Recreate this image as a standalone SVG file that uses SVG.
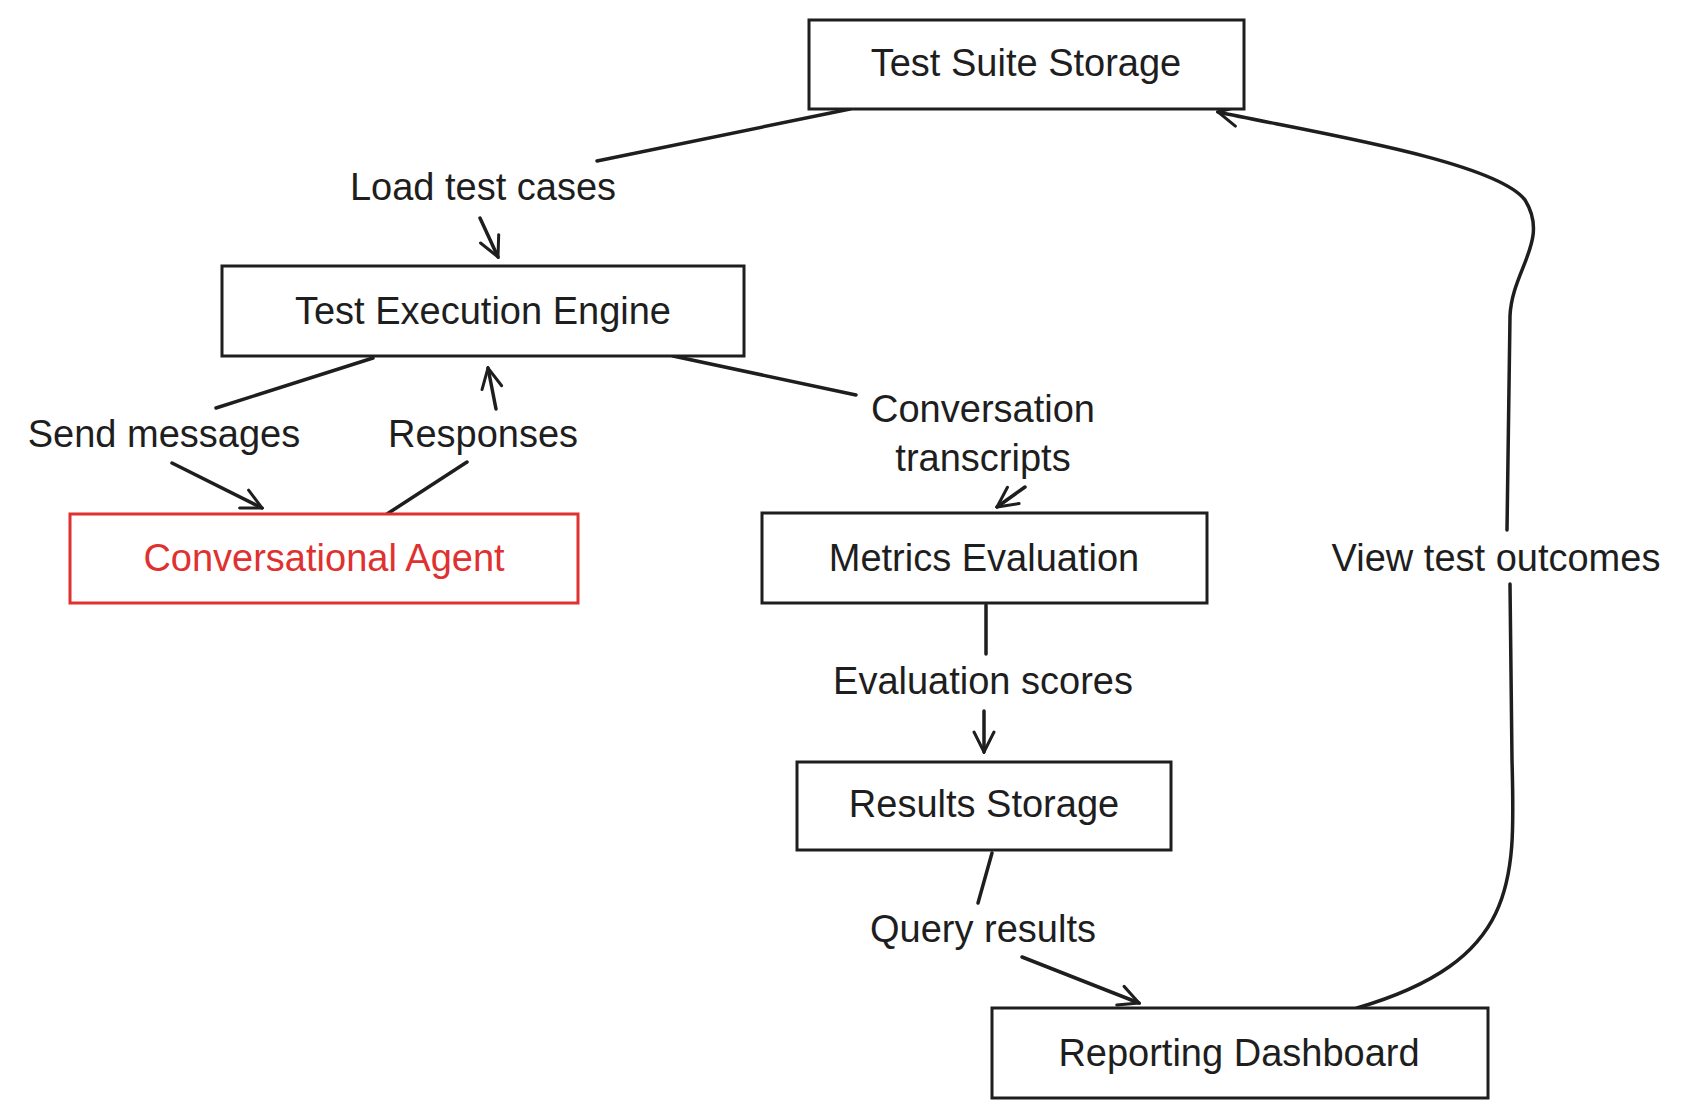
<svg xmlns="http://www.w3.org/2000/svg" width="1700" height="1112" viewBox="0 0 1700 1112">
<defs>
<marker id="ah" viewBox="0 0 24 24" refX="22" refY="12" markerWidth="24" markerHeight="24" markerUnits="userSpaceOnUse" orient="auto">
<path d="M2,2 L22,12 L2,22" fill="none" stroke="#1e1e1e" stroke-width="3" stroke-linecap="round"/>
</marker>
<style>
.b rect{fill:#fff;stroke:#1e1e1e;stroke-width:3}
.b text,.l{font-family:"Liberation Sans",sans-serif;font-size:38px;fill:#1e1e1e;text-anchor:middle;dominant-baseline:central}
.c path{fill:none;stroke:#1e1e1e;stroke-width:3.5;stroke-linecap:round}
</style>
</defs>
<rect width="1700" height="1112" fill="#fff"/>
<g class="c" id="connectors">
<path d="M850,109 L597,161"/><path d="M480,218 L498,257" marker-end="url(#ah)"/>
<path d="M373,358 L216,408"/><path d="M172,463 L262,508" marker-end="url(#ah)"/>
<path d="M387,514 L467,462"/><path d="M496,409 L488,368" marker-end="url(#ah)"/>
<path d="M673,356 L856,395"/><path d="M1025,487 L997,507" marker-end="url(#ah)"/>
<path d="M986,605 L986,654"/><path d="M984,711 L984,752" marker-end="url(#ah)"/>
<path d="M992,853 L978,903"/><path d="M1022,957 L1139,1003" marker-end="url(#ah)"/>
<path d="M1357,1008 C1520,960 1515,880 1512,760 L1510,584"/>
<path d="M1507,530 L1510,316 C1512,270 1550,240 1525,200 C1495,160 1300,130 1218,112" marker-end="url(#ah)"/>
<text class="l" x="483" y="187">Load test cases</text>
<text class="l" x="164" y="434">Send messages</text>
<text class="l" x="483" y="434">Responses</text>
<text class="l" x="983" y="409">Conversation</text>
<text class="l" x="983" y="458">transcripts</text>
<text class="l" x="983" y="681">Evaluation scores</text>
<text class="l" x="983" y="929">Query results</text>
<text class="l" x="1496" y="558">View test outcomes</text>
</g>
<g class="b" id="tss"><rect x="809" y="20" width="435" height="89"/><text x="1026" y="63">Test Suite Storage</text></g>
<g class="b" id="tee"><rect x="222" y="266" width="522" height="90"/><text x="483" y="311">Test Execution Engine</text></g>
<g class="b" id="ca"><rect x="70" y="514" width="508" height="89" style="stroke:#e03131"/><text x="324" y="558" style="fill:#e03131">Conversational Agent</text></g>
<g class="b" id="me"><rect x="762" y="513" width="445" height="90"/><text x="984" y="558">Metrics Evaluation</text></g>
<g class="b" id="rs"><rect x="797" y="762" width="374" height="88"/><text x="984" y="804">Results Storage</text></g>
<g class="b" id="rd"><rect x="992" y="1008" width="496" height="90"/><text x="1239" y="1053">Reporting Dashboard</text></g>
</svg>
